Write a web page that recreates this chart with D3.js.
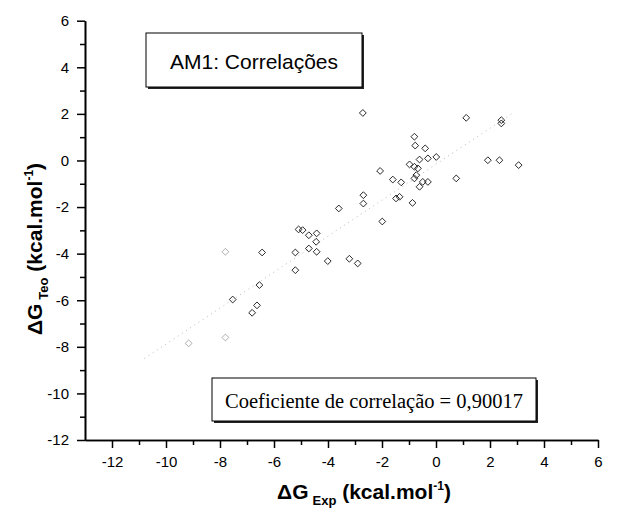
<!DOCTYPE html>
<html><head><meta charset="utf-8">
<script src="https://cdn.jsdelivr.net/npm/d3@7"></script>
<style>body{margin:0;background:#fff}svg{display:block}</style>
</head><body>
<svg id="c" width="621" height="521"></svg>
<script>
// ΔG Exp (x) and ΔG Teo (y) values, kcal/mol
const xExp = [-7.53,-6.81,-6.63,-6.54,-6.44,-5.21,-5.21,-5.09,-4.94,-4.71,-4.42,-4.44,-4.71,-4.42,-4.01,
  -3.60,-3.21,-2.90,-2.69,-2.69,-2.71,-2.07,-1.99,-1.60,-1.29,-1.48,-1.35,-0.87,-0.80,-0.77,-0.40,-0.30,
  0.01,-0.61,-0.98,-0.80,-0.67,-0.73,-0.80,-0.49,-0.30,-0.61,0.75,1.12,2.42,2.42,1.92,2.35,3.06];
const yTeo = [-5.97,-6.54,-6.22,-5.35,-3.95,-3.95,-4.71,-2.96,-2.99,-3.21,-3.13,-3.49,-3.78,-3.92,-4.32,
  -2.06,-4.22,-4.42,-1.49,-1.85,2.04,-0.45,-2.62,-0.82,-0.94,-1.63,-1.56,-1.82,1.02,0.64,0.52,0.09,
  0.15,0.04,-0.17,-0.27,-0.34,-0.63,-0.77,-0.92,-0.92,-1.13,-0.77,1.83,1.73,1.59,0.01,0.01,-0.20];
// points printed faintly in the original
const xExpFaint = [-9.16,-7.80,-7.80];
const yTeoFaint = [-7.85,-7.60,-3.92];
// linear fit line end points
const fitX = [-10.8, 2.85];
const fitY = [-8.5, 2.04];
const xTicks = [-12,-10,-8,-6,-4,-2,0,2,4,6];
const xMinor = [-11,-9,-7,-5,-3,-1,1,3,5];
const yTicks = [-12,-10,-8,-6,-4,-2,0,2,4,6];
const yMinor = [-11,-9,-7,-5,-3,-1,1,3,5];
const titleText = "AM1: Correlações";
const corrText = "Coeficiente de correlação = 0,90017";

const svg = d3.select("#c");
const x = d3.scaleLinear().domain([-13, 6]).range([85, 598]);
const y = d3.scaleLinear().domain([-12, 6]).range([440, 20.7]);
const sans = "'Liberation Sans', Arial, sans-serif";
const serif = "'Liberation Serif', 'Times New Roman', serif";

// fit line
svg.append("line")
  .attr("x1", x(fitX[0])).attr("y1", y(fitY[0]))
  .attr("x2", x(fitX[1])).attr("y2", y(fitY[1]))
  .attr("stroke", "#b8b8b8").attr("stroke-width", 1)
  .attr("stroke-dasharray", "1,4");

// axes
function styleAxis(g){
  g.select(".domain").attr("stroke","#000").attr("stroke-width",1.6);
  g.selectAll(".tick line").attr("stroke","#000").attr("stroke-width",1.5);
  g.selectAll(".tick text").attr("font-family",sans).attr("font-size",15).attr("fill","#000");
}
const gx = svg.append("g").attr("transform","translate(0,440)")
  .call(d3.axisBottom(x).tickValues(xTicks).tickSize(8).tickSizeOuter(0).tickPadding(8).tickFormat(d3.format("d")));
styleAxis(gx);
const gxm = svg.append("g").attr("transform","translate(0,440)")
  .call(d3.axisBottom(x).tickValues(xMinor).tickSize(5).tickSizeOuter(0).tickFormat(""));
styleAxis(gxm);
const gy = svg.append("g").attr("transform","translate(85,0)")
  .call(d3.axisLeft(y).tickValues(yTicks).tickSize(8).tickSizeOuter(0).tickPadding(8).tickFormat(d3.format("d")));
styleAxis(gy);
const gym = svg.append("g").attr("transform","translate(85,0)")
  .call(d3.axisLeft(y).tickValues(yMinor).tickSize(5).tickSizeOuter(0).tickFormat(""));
styleAxis(gym);
svg.selectAll(".tick text").text(function(){ return this.textContent.replace("−","-"); });

// points
const diamond = "M0,-3.4L3.4,0L0,3.4L-3.4,0Z";
svg.append("g").selectAll("path").data(xExp).join("path")
  .attr("d", diamond)
  .attr("transform",(d,i)=>`translate(${x(d)},${y(yTeo[i])})`)
  .attr("fill","none").attr("stroke","#111").attr("stroke-width",0.9);
svg.append("g").selectAll("path").data(xExpFaint).join("path")
  .attr("d", diamond)
  .attr("transform",(d,i)=>`translate(${x(d)},${y(yTeoFaint[i])})`)
  .attr("fill","none").attr("stroke","#999").attr("stroke-width",0.8);

// title box
svg.append("rect").attr("x",148).attr("y",35).attr("width",216).attr("height",54).attr("fill","#222");
svg.append("rect").attr("x",146).attr("y",33).attr("width",216).attr("height",54)
  .attr("fill","#fff").attr("stroke","#000").attr("stroke-width",1);
svg.append("text").attr("x",254).attr("y",68.5).attr("text-anchor","middle")
  .attr("font-family",sans).attr("font-size",21).text(titleText);

// correlation box
svg.append("rect").attr("x",214).attr("y",380).attr("width",324).attr("height",43).attr("fill","#222");
svg.append("rect").attr("x",212).attr("y",378).attr("width",324).attr("height",43)
  .attr("fill","#fff").attr("stroke","#000").attr("stroke-width",1);
svg.append("text").attr("x",374).attr("y",407.5).attr("text-anchor","middle")
  .attr("font-family",serif).attr("font-size",20.5).text(corrText);

// axis labels
function axisLabel(sel, sub){
  sel.attr("font-family",sans).attr("font-weight","bold").attr("font-size",21).attr("fill","#000");
  sel.append("tspan").text("ΔG");
  sel.append("tspan").attr("font-size",13).attr("dy",6).attr("dx",4).text(sub);
  sel.append("tspan").attr("dy",-6).text(" (kcal.mol");
  sel.append("tspan").attr("font-size",12).attr("dy",-9).text("-1");
  sel.append("tspan").attr("dy",9).text(")");
}
const xl = svg.append("text").attr("x",364).attr("y",499).attr("text-anchor","middle");
axisLabel(xl, "Exp");
const yl = svg.append("text").attr("transform","translate(42,249) rotate(-90)").attr("text-anchor","middle");
axisLabel(yl, "Teo");
</script>
</body></html>
